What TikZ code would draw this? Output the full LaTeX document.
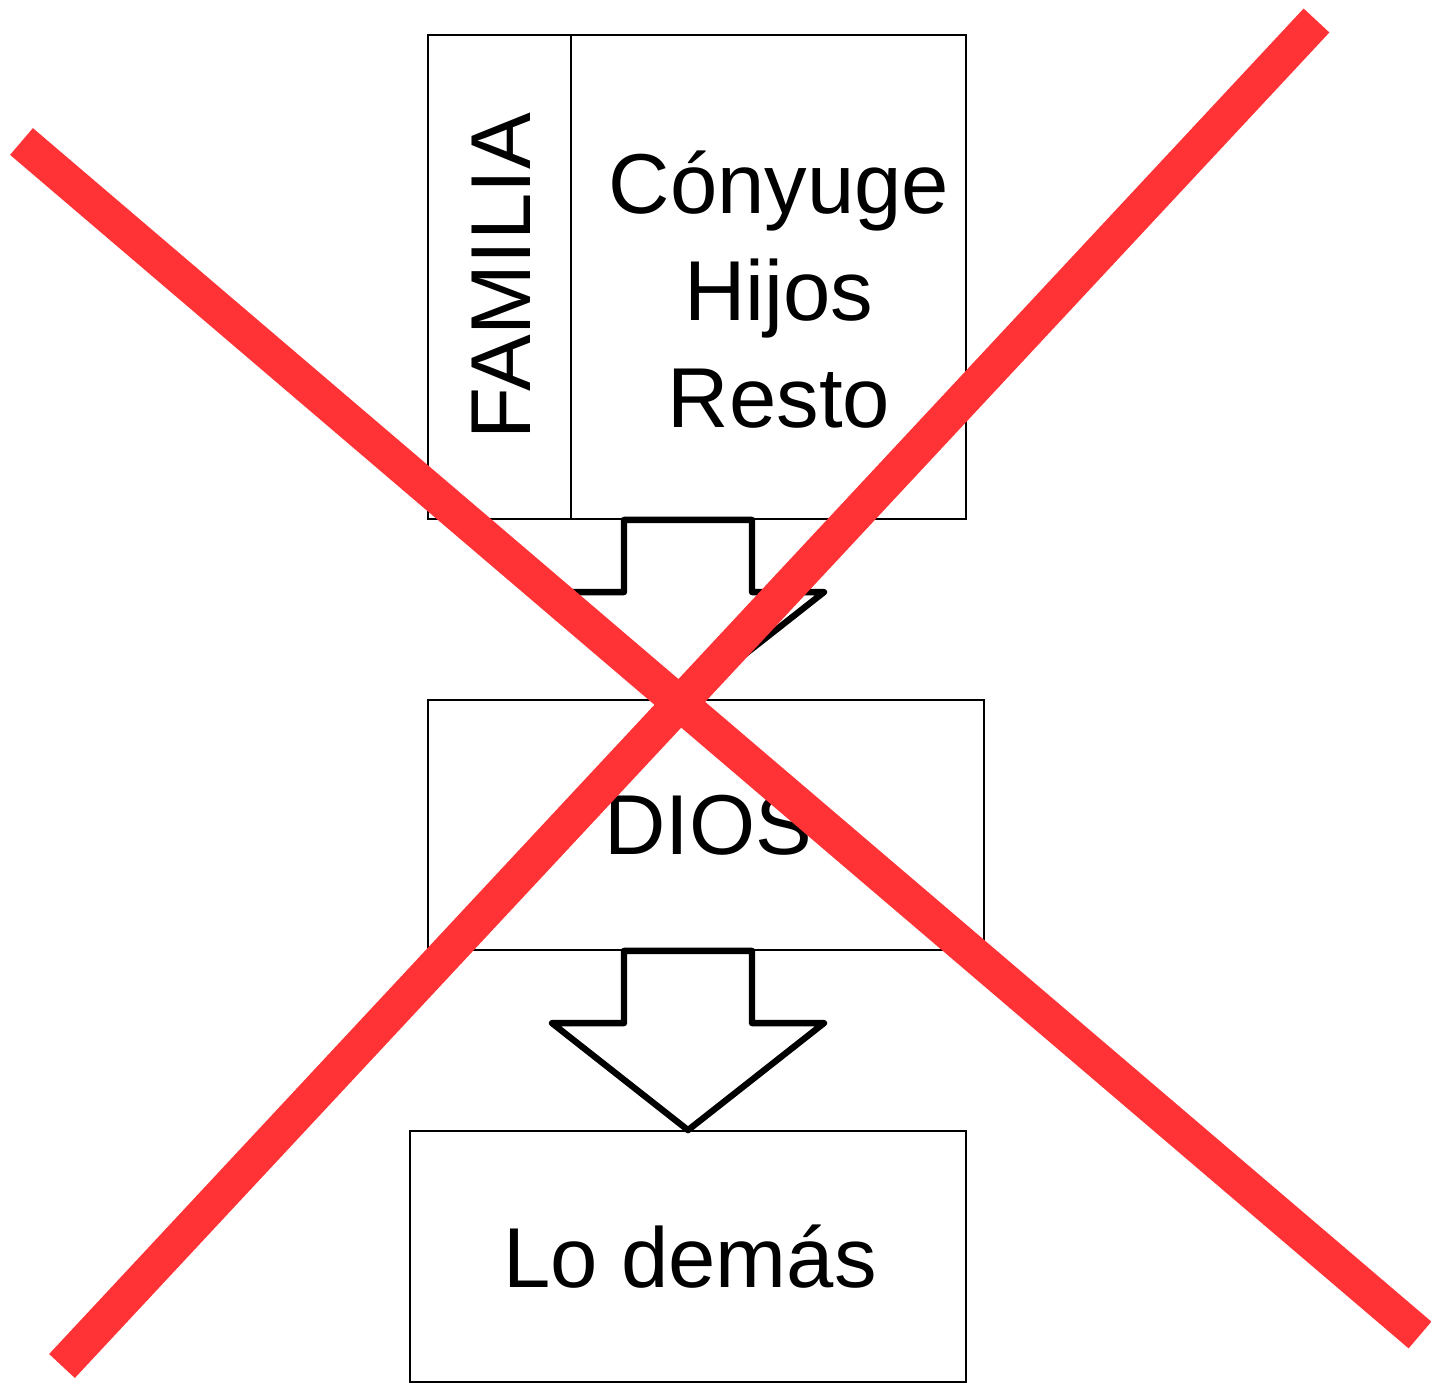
\documentclass[tikz,border=0pt]{standalone}
\usepackage{fontspec}
\setmainfont{Liberation Sans}
\usetikzlibrary{calc}
\definecolor{crossRed}{RGB}{255,51,54}

\begin{document}
\begin{tikzpicture}
[boxDecorate/.style={shape=rectangle,draw,line width=0.5pt,inner sep=0pt},%
  arrowDecorate/.style={draw,fill=white,line width=1.8pt,line join=round},%
  crossDecorate/.style={-,draw=crossRed,line width=10pt},%
  textDecorate/.style={align=center,font=\fontsize{24.2}{30.5}\selectfont}]
\useasboundingbox (0,0) rectangle (14.31,-13.83);
%% boxes
\foreach \nodename/\x/\y/\w/\h in {
  famcol/4.995/-2.77/1.43/4.84,
  famlist/7.685/-2.77/3.95/4.84,
  dios/7.06/-8.25/5.56/2.50,
  lodemas/6.88/-12.565/5.56/2.51}
{
  \node (\nodename) at (\x,\y) [boxDecorate,minimum width=\w cm,minimum height=\h cm] {};
}
%% texts
\node (famlabel) at (5.015,-2.76) [textDecorate,rotate=90] {FAMILIA};
\node (famtext) at (7.79,-2.895) [textDecorate] {Cónyuge\\Hijos\\Resto};
\node (diostext) at (7.08,-8.255) [textDecorate] {DIOS};
\node (lodemastext) at (6.9,-12.57) [textDecorate] {Lo demás};
%% block arrows
\foreach \src/\dst in {famlist/dios, dios/lodemas}
{
  \draw[arrowDecorate] (\dst.north -| lodemas.north) coordinate (tip)
    -- ++(-1.36,1.07) -- ++(0.72,0) |- (\src.south -| tip)
    -- ++(0.64,0) |- ($(tip)+(1.36,1.07)$) -- cycle;
}
%% red cross
\coordinate (crossNW) at (0.215,-1.415);
\coordinate (crossSE) at (14.20,-13.35);
\coordinate (crossNE) at (13.165,-0.205);
\coordinate (crossSW) at (0.62,-13.66);
\draw[crossDecorate] (crossNW) -- (crossSE);
\draw[crossDecorate] (crossNE) -- (crossSW);
\end{tikzpicture}
\end{document}
